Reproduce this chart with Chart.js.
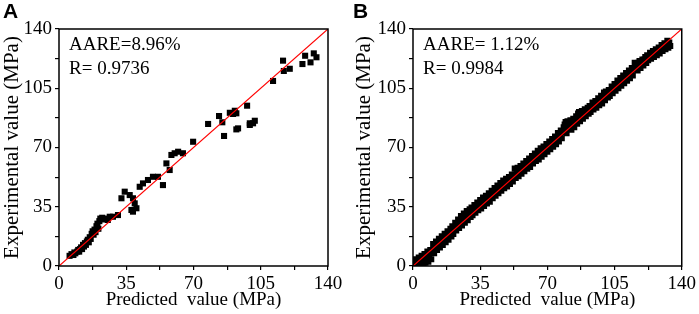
<!DOCTYPE html>
<html>
<head>
<meta charset="utf-8">
<script src="https://cdn.jsdelivr.net/npm/chart.js@4"></script>
<style>
  body { margin: 0; background: #fff; }
  .panel { position: absolute; top: 0; width: 349px; height: 314px; }
</style>
</head>
<body>
<div class="panel" style="left:0"><canvas id="chartA" width="349" height="314"></canvas></div>
<div class="panel" style="left:350px"><canvas id="chartB" width="349" height="314"></canvas></div>
<script>
// panel A: predicted vs experimental (MPa)
const predA = [5.5, 6.5, 7.5, 8.0, 8.5, 9.5, 10.0, 10.5, 11.0, 11.5, 12.0, 12.5, 13.0, 13.5, 14.0, 14.5, 15.0, 15.5,
  16.0, 16.5, 17.0, 17.5, 18.0, 18.5, 19.0, 19.5, 20.0, 20.5, 21.0, 21.5, 22.5, 23.5, 24.5, 25.4, 26.4, 28.1,
  30.7, 32.5, 34.2, 36.8, 38.5, 39.4, 37.7, 40.3, 38.5, 42.0, 43.7, 46.3, 48.9, 51.5, 54.1, 55.9, 57.6, 58.5,
  60.2, 62.0, 64.5, 69.8, 77.6, 83.3, 85.0, 85.9, 88.9, 91.5, 92.3, 90.6, 93.2, 92.3, 97.9, 99.3, 101.9, 99.3,
  101.0, 111.4, 116.6, 117.0, 120.1, 126.7, 128.1, 130.9, 132.6, 134.0];
const expA = [6.0, 7.0, 6.5, 8.0, 7.5, 8.5, 9.5, 8.5, 10.0, 11.0, 10.0, 12.5, 11.5, 13.5, 12.5, 14.5, 15.5, 14.0,
  17.0, 16.0, 19.0, 20.5, 18.5, 21.5, 20.0, 23.5, 25.0, 22.0, 26.5, 28.0, 28.5, 27.5, 28.0, 27.2, 29.1, 29.1,
  30.1, 40.0, 43.9, 41.9, 40.0, 37.0, 33.1, 34.1, 32.1, 46.8, 48.8, 50.8, 52.7, 52.7, 47.8, 60.6, 56.7, 65.6,
  66.6, 67.5, 66.6, 73.4, 83.9, 88.6, 84.9, 76.8, 90.5, 91.7, 90.2, 89.8, 81.3, 80.7, 94.7, 84.3, 85.8, 83.3,
  84.3, 109.3, 121.3, 115.2, 116.5, 119.3, 124.2, 120.3, 125.6, 123.3];

// panel B
const predB = [0.5, 1, 1.5, 2, 2.5, 3, 3.5, 4, 4.5, 5, 5.5, 6, 6.5, 7, 7.5, 8, 8.5, 9, 9.5, 10,
  10.5, 11, 11.5, 12, 12.5, 13, 13.5, 14, 14.5, 15, 15.5, 16, 16.5, 17, 17.5, 18, 18.5, 19, 19.5, 20,
  20.5, 21, 21.5, 22, 22.5, 23, 23.5, 24, 24.5, 25, 25.5, 26, 26.5, 27, 27.5, 28, 28.5, 29, 29.5, 30,
  30.5, 31, 31.5, 32, 32.5, 33, 33.5, 34, 34.5, 35, 35.5, 36, 36.5, 37, 37.5, 38, 38.5, 39, 39.5, 40,
  40.5, 41, 41.5, 42, 42.5, 43, 43.5, 44, 44.5, 45,
  45.5, 46, 46.5, 47, 47.5, 48, 48.5, 49, 49.5, 50, 50.5, 51, 51.5, 52, 52.5, 53, 53.5, 54, 54.5, 55,
  55.5, 56, 56.5, 57, 57.5, 58, 58.5, 59, 59.5, 60,
  60.5, 61, 61.5, 62, 62.5, 63, 63.5, 64, 64.5, 65, 65.5, 66, 66.5, 67, 67.5, 68, 68.5, 69, 69.5, 70,
  70.5, 71, 71.5, 72, 72.5, 73, 73.5, 74, 74.5, 75,
  75.5, 76, 76.5, 77, 77.5, 78, 78.5, 79, 79.5, 80, 80.5, 81, 81.5, 82, 82.5, 83, 83.5, 84, 84.5, 85,
  85.5, 86, 86.5, 87, 87.5, 88, 88.5, 89, 89.5, 90,
  90.5, 91, 91.5, 92, 92.5, 93, 93.5, 94, 94.5, 95, 95.5, 96, 96.5, 97, 97.5, 98, 98.5, 99, 99.5, 100,
  100.5, 101, 101.5, 102, 102.5, 103, 103.5, 104, 104.5, 105,
  105.5, 106, 106.5, 107, 107.5, 108, 108.5, 109, 109.5, 110, 110.5, 111, 111.5, 112, 112.5, 113, 113.5, 114, 114.5, 115,
  115.5, 116, 116.5, 117, 117.5, 118, 118.5, 119, 119.5, 120,
  120.5, 121, 121.5, 122, 122.5, 123, 123.5, 124, 124.5, 125, 125.5, 126, 126.5, 127, 127.5, 128, 128.5, 129, 129.5, 130,
  130.5, 131, 131.5, 132, 132.5, 133, 133.5, 134];
const expB = [2.5, 0.5, 4, 1, 3, 5, 1, 2, 6, 3.5, 1.5, 7, 2, 4.5, 8.5, 2.5, 5.5, 9.5, 4, 8,
  13, 7.5, 11, 14.5, 9.5, 12, 16, 11, 13.5, 17.5, 12.5, 15, 19, 14, 17, 20.5, 15.5, 18, 22, 17.5,
  23.5, 19, 22, 25.5, 21, 24, 27.5, 22.5, 26, 29.5, 24, 27, 31, 25.5, 29, 32.5, 27, 30.5, 33.5, 29,
  34.5, 30, 33, 36, 31.5, 34.5, 37.5, 33, 36, 39, 34, 37, 40.5, 35.5, 38.5, 41.5, 37, 40, 43, 38,
  41.5, 44.5, 40, 43, 46, 41.5, 44.5, 47.5, 43, 46,
  49, 44.5, 47.5, 50.5, 46, 49, 51.5, 47, 50, 52.5, 48.5, 51.5, 54, 50, 53, 57.5, 52, 55, 58, 53,
  56, 59, 54.5, 57.5, 60.5, 56, 59, 62, 57.5, 60.5,
  63.5, 58.5, 62, 65, 60.5, 63.5, 66.5, 62, 65, 68, 63, 66, 69.5, 64.5, 67.5, 70.5, 66, 69, 72, 67.5,
  70.5, 73.5, 69, 72, 75, 70.5, 73.5, 76.5, 72, 75,
  78.5, 73.5, 77, 80, 75.5, 79, 82, 83.5, 85, 78.5, 85.5, 81, 84, 86, 80.5, 84, 87, 82, 86, 88.5,
  84, 90, 91, 85.5, 89, 91.5, 87, 90.5, 92.5, 88.5,
  92, 93.5, 90, 94.5, 91, 94, 96.5, 92.5, 96, 97.5, 93.5, 97, 99, 95, 98, 100.5, 96, 99.5, 102.5, 98,
  103, 101, 99.5, 104, 100.5, 103.5, 106, 102, 105, 107.5,
  103.5, 107, 109.5, 105, 108.5, 111, 106.5, 110, 112.5, 108, 111.5, 114, 109.5, 113, 115.5, 111, 114.5, 117, 112.5, 116,
  120, 117.5, 119.5, 115.5, 120, 121, 117, 120.5, 122, 118.5,
  122, 123.5, 120, 124.5, 121.5, 124, 126, 122.5, 125.5, 127, 123.5, 126.5, 128, 124.5, 127.5, 129, 125.5, 128.5, 130.5, 127,
  130, 131.5, 128, 131, 133, 129, 132, 130];

const refLine = [0, 140];
const majorTicks = [0, 35, 70, 105, 140];

const serif = 'Liberation Serif, Times New Roman, serif';

function makePanel(id, letter, pred, exp, stats, leftW, rightPad, titlePad) {
  const framePlugin = {
    id: 'frame' + letter,
    afterDraw(chart) {
      const a = chart.chartArea;
      const c = chart.ctx;
      c.save();
      c.strokeStyle = '#000';
      c.lineWidth = 1.5;
      c.strokeRect(a.left, a.top, a.right - a.left, a.bottom - a.top);
      c.fillStyle = '#000';
      c.font = '19px ' + serif;
      c.textBaseline = 'alphabetic';
      c.textAlign = 'left';
      c.fillText(stats[0], a.left + 10, a.top + 21);
      c.fillText(stats[1], a.left + 10, a.top + 45);
      c.font = 'bold 21px Liberation Sans, Arial, sans-serif';
      c.fillText(letter, 3, 18);
      c.restore();
    }
  };

  const axis = (title, fit) => ({
    type: 'linear',
    min: 0,
    max: 140,
    border: { display: false },
    grid: { drawOnChartArea: false, drawTicks: true, tickLength: 4, color: '#000', lineWidth: 1.2 },
    ticks: {
      stepSize: 17.5,
      autoSkip: false,
      maxRotation: 0,
      color: '#000',
      font: { family: serif, size: 19 },
      callback: v => majorTicks.includes(v) ? v : ''
    },
    title: title,
    afterFit: fit
  });

  new Chart(document.getElementById(id), {
    type: 'scatter',
    data: {
      datasets: [{
        data: refLine.map(v => ({ x: v, y: v })),
        showLine: true,
        borderColor: '#ff0000',
        borderWidth: 1.2,
        pointRadius: 0
      }, {
        data: pred.map((p, i) => ({ x: p, y: exp[i] })),
        pointStyle: 'rect',
        pointRadius: 4.3,
        backgroundColor: '#000',
        borderWidth: 0
      }]
    },
    options: {
      responsive: false,
      animation: false,
      layout: { padding: { top: 29, right: rightPad, left: 0, bottom: 0 } },
      scales: {
        x: axis({ display: true, text: 'Predicted  value (MPa)', color: '#000',
          font: { family: serif, size: 19 }, padding: { top: 0, bottom: 3 } },
          s => { s.height = 48; }),
        y: axis({ display: true, text: 'Experimental value (MPa)', color: '#000',
          font: { family: serif, size: 21 }, padding: { top: titlePad, bottom: 0 } },
          s => { s.width = leftW; })
      },
      plugins: {
        legend: { display: false },
        tooltip: { enabled: false }
      }
    },
    plugins: [framePlugin]
  });
}

makePanel('chartA', 'A', predA, expA, ['AARE=8.96%', 'R= 0.9736'], 59, 21, 0);
makePanel('chartB', 'B', predB, expB, ['AARE= 1.12%', 'R= 0.9984'], 63, 16, 2);
</script>
</body>
</html>
